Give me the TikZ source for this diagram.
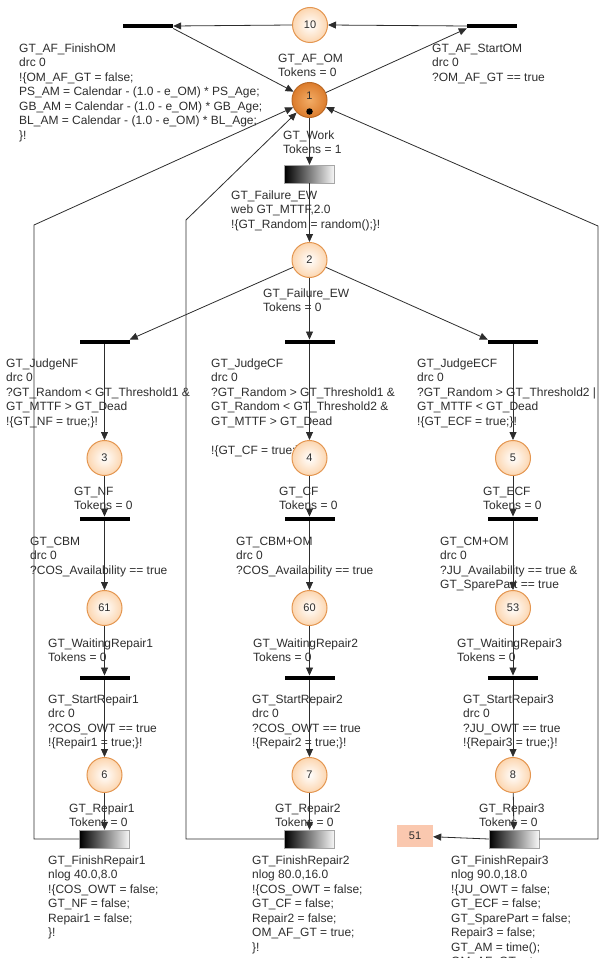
\documentclass[tikz,border=0pt]{standalone}
\usepackage{fontspec}
\setmainfont{Liberation Sans}
\usetikzlibrary{arrows.meta,positioning,calc}
\definecolor{placeedge}{RGB}{228,150,80}
\definecolor{placefill}{RGB}{252,214,176}
\definecolor{workfill}{RGB}{220,124,44}
\definecolor{workhigh}{RGB}{242,172,102}
\definecolor{poolfill}{RGB}{250,200,175}
\definecolor{inkgray}{RGB}{45,45,45}
\newcommand{\lblfont}{\fontsize{12}{14.5}\selectfont}

\begin{document}
\begin{tikzpicture}[x=1pt,y=-1pt,
  place/.style={circle,draw=placeedge,line width=1pt,minimum size=35pt,inner sep=0pt,
    inner color=white,outer color=placefill,font=\fontsize{11}{13}\selectfont,text=inkgray},
  workplace/.style={place,inner color=workhigh,outer color=workfill,draw=workfill!85!black},
  token/.style={circle,fill=black,minimum size=6.5pt,inner sep=0pt},
  bar/.style={rectangle,fill=black,minimum width=50pt,minimum height=4.5pt,inner sep=0pt},
  timed/.style={rectangle,draw=gray!70,left color=black,right color=gray!5,
    minimum width=50pt,minimum height=18pt,inner sep=0pt},
  pool/.style={rectangle,fill=poolfill,minimum width=36pt,minimum height=22pt,inner sep=0pt,
    font=\fontsize{11}{13}\selectfont,text=inkgray},
  lbl/.style={anchor=north west,inner sep=0pt,align=left,font=\lblfont,text=inkgray},
  arc/.style={draw=inkgray,line width=0.8pt,-{Triangle[length=8pt,width=7pt]}}]
  \useasboundingbox (0,0) rectangle (601,958);

  % OM loop on top
  \node[place] (p10) at (310,25) {10};
  \node[bar] (tFinishOM) at (148,26) {};
  \node[bar] (tStartOM) at (492,26) {};
  \node[workplace] (p1) at (309.5,100) {};
  \node[font=\fontsize{11}{13}\selectfont,text=inkgray] (p1num) at (309.5,96) {1};
  \node[token] (p1tok) at (309.5,111.5) {};
  \node[lbl] (lFinishOM) at (19,43.5) {GT\_AF\_FinishOM\\drc 0\\!\{OM\_AF\_GT = false;\\
    PS\_AM = Calendar - (1.0 - e\_OM) * PS\_Age;\\GB\_AM = Calendar - (1.0 - e\_OM) * GB\_Age;\\
    BL\_AM = Calendar - (1.0 - e\_OM) * BL\_Age;\\\}!};
  \node[lbl] (lAFOM) at (278,53.5) {GT\_AF\_OM\\Tokens = 0};
  \node[lbl] (lStartOM) at (432,43.5) {GT\_AF\_StartOM\\drc 0\\?OM\_AF\_GT == true};
  \node[lbl] (lWork) at (283,130.5) {GT\_Work\\Tokens = 1};

  % failure and judgement
  \node[timed] (tFailure) at (309.5,174) {};
  \node[lbl] (lFailureT) at (231,190.5) {GT\_Failure\_EW\\web GT\_MTTF,2.0\\!\{GT\_Random = random();\}!};
  \node[place] (p2) at (309.5,260) {2};
  \node[lbl] (lFailureP) at (263,288.5) {GT\_Failure\_EW\\Tokens = 0};
  \node[bar] (tJudgeNF) at (104.5,342) {};
  \node[bar] (tJudgeCF) at (309.5,342) {};
  \node[bar] (tJudgeECF) at (513,342) {};
  \node[lbl] (lJudgeNF) at (6,358.5) {GT\_JudgeNF\\drc 0\\?GT\_Random < GT\_Threshold1 \&\\
    GT\_MTTF > GT\_Dead\\!\{GT\_NF = true;\}!};
  \node[lbl] (lJudgeCF) at (211,358.5) {GT\_JudgeCF\\drc 0\\?GT\_Random > GT\_Threshold1 \&\\
    GT\_Random < GT\_Threshold2 \&\\GT\_MTTF > GT\_Dead\\[14.5pt]!\{GT\_CF = true;\}!};
  \node[lbl] (lJudgeECF) at (417,358.5) {GT\_JudgeECF\\drc 0\\?GT\_Random > GT\_Threshold2 |\\
    GT\_MTTF < GT\_Dead\\!\{GT\_ECF = true;\}!};

  % failure modes
  \node[place] (p3) at (104.5,458) {3};
  \node[place] (p4) at (309.5,458) {4};
  \node[place] (p5) at (513,458) {5};
  \node[lbl] (lNF) at (74,486.5) {GT\_NF\\Tokens = 0};
  \node[lbl] (lCF) at (279,486.5) {GT\_CF\\Tokens = 0};
  \node[lbl] (lECF) at (483,486.5) {GT\_ECF\\Tokens = 0};
  \node[bar] (tCBM) at (104.5,519) {};
  \node[bar] (tCBMOM) at (309.5,519) {};
  \node[bar] (tCMOM) at (513,519) {};
  \node[lbl] (lCBM) at (30,536.5) {GT\_CBM\\drc 0\\?COS\_Availability == true};
  \node[lbl] (lCBMOM) at (236,536.5) {GT\_CBM+OM\\drc 0\\?COS\_Availability == true};
  \node[lbl] (lCMOM) at (440,536.5) {GT\_CM+OM\\drc 0\\?JU\_Availability == true \&\\GT\_SparePart == true};

  % waiting and repair
  \node[place] (p61) at (104.5,608) {61};
  \node[place] (p60) at (309.5,608) {60};
  \node[place] (p53) at (513,608) {53};
  \node[lbl] (lWait1) at (48,638.5) {GT\_WaitingRepair1\\Tokens = 0};
  \node[lbl] (lWait2) at (253,638.5) {GT\_WaitingRepair2\\Tokens = 0};
  \node[lbl] (lWait3) at (457,638.5) {GT\_WaitingRepair3\\Tokens = 0};
  \node[bar] (tStart1) at (104.5,678) {};
  \node[bar] (tStart2) at (309.5,678) {};
  \node[bar] (tStart3) at (513,678) {};
  \node[lbl] (lStart1) at (48,694.5) {GT\_StartRepair1\\drc 0\\?COS\_OWT == true\\!\{Repair1 = true;\}!};
  \node[lbl] (lStart2) at (252,694.5) {GT\_StartRepair2\\drc 0\\?COS\_OWT == true\\!\{Repair2 = true;\}!};
  \node[lbl] (lStart3) at (463,694.5) {GT\_StartRepair3\\drc 0\\?JU\_OWT == true\\!\{Repair3 = true;\}!};
  \node[place] (p6) at (104.5,775) {6};
  \node[place] (p7) at (309.5,775) {7};
  \node[place] (p8) at (513,775) {8};
  \node[lbl] (lRep1) at (69,803.5) {GT\_Repair1\\Tokens = 0};
  \node[lbl] (lRep2) at (275,803.5) {GT\_Repair2\\Tokens = 0};
  \node[lbl] (lRep3) at (479,803.5) {GT\_Repair3\\Tokens = 0};
  \node[timed] (tFinish1) at (104.5,839) {};
  \node[timed] (tFinish2) at (309.5,839) {};
  \node[timed] (tFinish3) at (514,839) {};
  \node[pool] (p51) at (415,836) {51};
  \node[lbl] (lFin1) at (48,855.5) {GT\_FinishRepair1\\nlog 40.0,8.0\\!\{COS\_OWT = false;\\
    GT\_NF = false;\\Repair1 = false;\\\}!};
  \node[lbl] (lFin2) at (252,855.5) {GT\_FinishRepair2\\nlog 80.0,16.0\\!\{COS\_OWT = false;\\
    GT\_CF = false;\\Repair2 = false;\\OM\_AF\_GT = true;\\\}!};
  \node[lbl] (lFin3) at (451,855.5) {GT\_FinishRepair3\\nlog 90.0,18.0\\!\{JU\_OWT = false;\\
    GT\_ECF = false;\\GT\_SparePart = false;\\Repair3 = false;\\GT\_AM = time();\\OM\_AF\_GT = true;};

  % arcs
  \draw[arc] (tStartOM.west) -- (p10.east);
  \draw[arc] (p10.west) -- (tFinishOM.east);
  \draw[arc] (tFinishOM.south east) -- (p1);
  \draw[arc] (p1) -- (tStartOM.south west);
  \draw[arc] (p1) -- (tFailure);
  \draw[arc] (tFailure) -- (p2);
  \draw[arc] (p2) -- (tJudgeNF.north east);
  \draw[arc] (p2) -- (tJudgeCF);
  \draw[arc] (p2) -- (tJudgeECF.north west);
  \foreach \from/\to in {tJudgeNF/p3,p3/tCBM,tCBM/p61,p61/tStart1,tStart1/p6,p6/tFinish1,
      tJudgeCF/p4,p4/tCBMOM,tCBMOM/p60,p60/tStart2,tStart2/p7,p7/tFinish2,
      tJudgeECF/p5,p5/tCMOM,tCMOM/p53,p53/tStart3,tStart3/p8,p8/tFinish3}
    \draw[arc] (\from) -- (\to);
  \draw[arc] (tFinish3.west) -- (p51);

  % feedback to GT_Work
  \coordinate (bendNF) at (34,225);
  \coordinate (bendCF) at (186,220);
  \coordinate (bendECF) at (598,226);
  \draw[arc] (tFinish1.west) -| (bendNF) -- (p1);
  \draw[arc] (tFinish2.west) -| (bendCF) -- (p1);
  \draw[arc] (tFinish3.east) -| (bendECF) -- (p1);
\end{tikzpicture}
\end{document}
